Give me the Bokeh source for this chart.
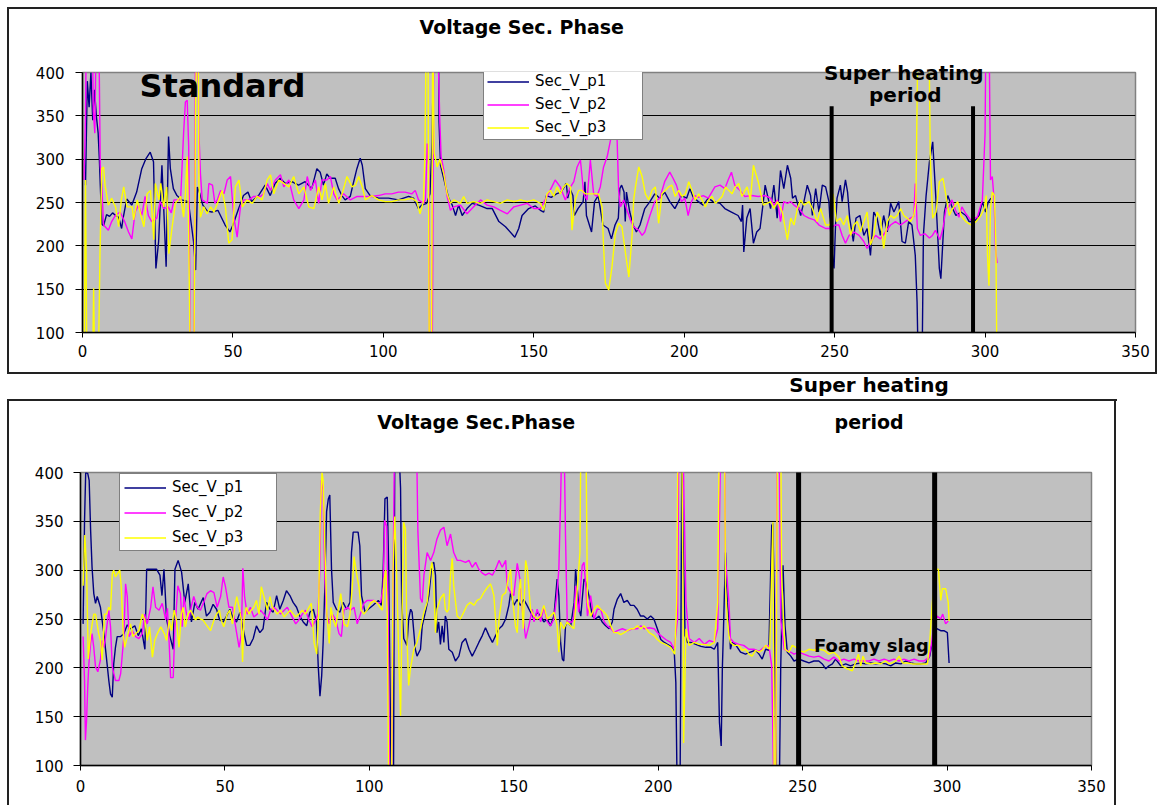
from bokeh.plotting import figure
from bokeh.models import Range1d, FixedTicker, Label, Legend, LegendItem, LinearAxis
from bokeh.layouts import column
from bokeh.embed import file_html
from bokeh.resources import INLINE

# ---------------- data ----------------
X_TICKS = [0, 50, 100, 150, 200, 250, 300, 350]
Y_TICKS = [100, 150, 200, 250, 300, 350, 400]
GRID_TICKS = [150, 200, 250, 300, 350]
SERIES = ["Sec_V_p1", "Sec_V_p2", "Sec_V_p3"]
COLORS = ["#000080", "#FF00FF", "#FFFF00"]

# top chart ("Standard"), pairs of (sample, volts); >400 / <100 are off-scale peaks
top_p1 = [(1,270),(1.6,390),(2.2,360),(2.8,400),(3.4,345),(4,380),(4.6,350),(5.2,330),(5.6,300),(6,262),(6.5,225),(7,223),(8,236),(9,234),(10,238),(11,235),(12,233),(13,220),(13.5,232),(14.7,254),(16.4,247),(18,262),(19.7,289),(21,300),(22.5,308),(23.6,297),(24.4,174),(25.3,205),(26.4,293),(27,243),(27.8,176),(28.6,326),(29.2,289),(30.2,266),(31.4,258),(33,253),(35.2,251),(36.9,205),(37.6,172),(38.2,268),(39,260),(40,247),(41.5,240),(43,239),(45,241),(47.4,224),(49,216),(50,224),(51.9,243),(53.5,258),(55,262),(56.2,251),(58.5,258),(60.7,270),(62.4,258),(64,272),(65.7,278),(67.4,272),(69.6,274),(71.8,270),(74,274),(76.2,266),(77.9,289),(79,285),(80.1,270),(81.2,283),(82.3,278),(84,278),(85.1,266),(86.2,258),(87.3,253),(89,257),(90,272),(91.2,289),(92.3,301),(93,293),(94,266),(95.6,258),(98.4,255),(101.7,255),(105,253),(108.4,257),(110,255),(111.7,243),(112.8,247),(114.4,249),(115.5,260),(116.2,320),(116.8,460),(118.3,460),(118.5,343),(119,293),(120.6,270),(121.7,255),(122.9,247),(124,235),(125,247),(126.2,235),(127.8,243),(129.5,249),(131.7,247),(134.5,243),(136.2,243),(138.4,228),(140.6,222),(143.7,210),(145,220),(146.1,235),(148.3,243),(150.5,246),(152.2,241),(153.3,239),(154.2,258),(155.8,256),(157.5,260),(159.1,262),(160.8,272),(161.3,255),(162,266),(163,258),(163.5,235),(164.7,243),(166.4,251),(167,274),(167.5,235),(169.2,216),(170.2,251),(171.4,258),(173,224),(174.7,220),(175.8,208),(177,224),(178.1,232),(178.6,266),(179.2,270),(180,262),(180.4,228),(180.8,262),(181.9,239),(183,224),(184.1,216),(185.3,224),(186.9,243),(188.6,251),(190.2,260),(191.9,255),(193.5,262),(195.2,251),(196.9,243),(199.1,258),(200.8,255),(201.9,266),(203,256),(204.7,251),(206.3,247),(208,255),(209.6,251),(211.9,249),(213.5,243),(215.7,239),(217.9,235),(219,228),(219.4,247),(219.8,193),(220.8,232),(221.9,243),(223,203),(224.1,216),(225.2,220),(226.3,251),(226.9,270),(228.7,243),(229.8,270),(230.9,232),(232,287),(233.1,266),(234.3,293),(235.4,278),(236,255),(237,258),(238.7,235),(239.8,251),(240.9,270),(242,258),(242.6,235),(243.7,266),(244.8,239),(245.9,270),(247,268),(248.1,251),(249,197),(249.8,174),(250.3,224),(250.8,255),(251.9,270),(252.5,251),(253.6,276),(254.3,262),(255,232),(256.2,205),(257.1,232),(258.4,235),(259.7,212),(260.8,220),(261.9,189),(263,239),(264.1,232),(265.2,212),(266.3,235),(267.5,216),(268.6,249),(269.7,239),(271.3,251),(272.4,205),(273.5,203),(274.6,228),(275.7,224),(276.8,189),(277.4,135),(277.9,40),(279,40),(279.5,212),(280.4,258),(281.5,297),(282.6,320),(283.7,251),(284.8,174),(285.3,162),(286.5,239),(287.6,258),(289.2,243),(290.3,235),(292,239),(293.6,235),(294.7,228),(296.4,228),(298,235),(299.1,251),(300.2,239),(301,250),(302,255)]

top_p2 = [(0.5,276),(1,350),(1.3,460),(3.2,460),(3.6,355),(4.1,330),(4.6,460),(5.4,460),(5.9,293),(6.4,270),(7,224),(8.6,218),(9.7,228),(10.9,235),(12.5,239),(14,228),(15.3,216),(16.4,208),(17.5,239),(18.6,247),(19.7,235),(20.8,257),(21.9,235),(23,228),(24.7,232),(25.8,251),(27,243),(28.5,245),(29.5,238),(30.4,253),(32.6,253),(33.6,330),(34.2,366),(34.8,368),(35.3,314),(35.9,40),(37,40),(37.6,460),(38.2,460),(38.7,330),(39.2,283),(39.8,253),(41.5,249),(42,272),(43.2,270),(44,249),(44.8,253),(45.9,264),(47,260),(48.1,276),(49.2,280),(50.3,233),(51.4,210),(52.5,245),(53.6,253),(55.3,253),(56.9,257),(59.1,257),(60.2,260),(61.4,272),(62.5,264),(64.1,276),(65.8,282),(66.9,268),(68.6,276),(70.2,253),(71.9,243),(73.6,253),(74.7,280),(75.8,264),(77.4,276),(78.5,249),(79.6,276),(81.2,276),(82.4,280),(83.5,260),(84.6,253),(86.8,260),(89,253),(91.3,257),(93.5,257),(96.2,257),(98.4,258),(100.6,260),(102.8,260),(105,262),(107.2,262),(109.5,260),(110.6,264),(111.7,253),(113.3,249),(114,253),(114.6,318),(115.1,291),(115.4,40),(116.2,40),(116.8,460),(117.9,460),(118.8,341),(119.2,303),(120.1,287),(121.2,257),(122.3,241),(123.4,245),(125.6,247),(127.8,237),(130,245),(132.3,253),(134.5,247),(136.7,245),(138.9,241),(141.2,237),(143.4,245),(145.6,247),(147.8,249),(150,243),(152.2,243),(154.4,257),(156,268),(157.1,276),(158.8,268),(160.5,253),(162.2,268),(163.3,274),(164.4,291),(165.5,299),(166.6,260),(167.7,253),(168.8,299),(169.9,260),(171,257),(172.1,268),(173.2,291),(174.4,303),(175.5,322),(176,357),(176.6,460),(177.2,460),(177.7,322),(178.2,264),(178.8,245),(179.9,253),(181,241),(182.1,230),(183.2,222),(184.9,218),(186,212),(186.9,216),(188.6,235),(190.2,251),(191.9,255),(193.5,274),(195.2,285),(196.3,278),(197.4,270),(199.1,251),(200.2,255),(201.3,235),(202.4,251),(203.5,258),(204.7,256),(206.3,258),(208,255),(210.2,268),(211.9,270),(213.5,266),(214.6,276),(215.7,285),(216.8,270),(218.5,264),(220.1,257),(222.4,258),(224.6,257),(226.9,258),(228.7,255),(229.8,247),(231,253),(232,228),(233.1,251),(234.3,249),(235.4,251),(236.5,247),(238.2,243),(239.8,235),(241.5,232),(243.2,230),(244.8,224),(247,220),(248.6,220),(250.3,224),(251.4,224),(252.5,212),(253.6,203),(254.8,212),(256.4,216),(258.1,212),(259.7,205),(260.8,197),(261.9,205),(263.6,212),(265.2,208),(266.9,216),(268.6,224),(270.2,228),(271.9,224),(273.5,228),(275.2,232),(276.3,234),(276.8,272),(277.5,220),(278.5,212),(280,214),(281.5,209),(282.5,212),(283.5,218),(285,207),(286,220),(287,243),(288,245),(289,253),(290.2,241),(291.3,233),(292.3,245),(293.6,237),(295.2,230),(297.4,233),(299.1,253),(300,330),(300.3,460),(301.3,460),(301.8,276),(302.4,280),(303,253),(303.5,195),(304,180)]

top_p3 = [(0.5,40),(1,276),(1.5,40),(3.3,40),(3.7,151),(4.1,40),(5.2,40),(5.8,189),(6.4,289),(7,291),(7.5,270),(8.6,247),(9.7,255),(10.4,249),(11,245),(12,222),(12.9,253),(13.7,268),(14.8,245),(16.5,245),(17,230),(18.2,253),(19.3,237),(20.4,222),(21.5,260),(22.6,264),(23.7,207),(24.2,272),(25.4,253),(26,272),(27,245),(28,268),(28.7,191),(29.8,222),(30.9,249),(32.6,257),(33.6,233),(34.2,260),(34.8,303),(35.3,214),(35.9,40),(37,40),(37.6,368),(38.1,460),(38.5,420),(38.7,272),(39.2,233),(40.3,245),(41.4,237),(42.6,245),(43.7,239),(45.3,253),(46.4,264),(47.5,245),(48.6,203),(49.7,207),(50.8,268),(52,276),(53.1,245),(54.7,253),(56.4,249),(58,257),(59.7,253),(61.4,276),(62.5,282),(63.6,260),(65.2,276),(66.9,272),(68.6,268),(70.2,280),(71.9,260),(73.6,268),(75.2,245),(76.9,243),(78.5,268),(79.6,253),(80.7,272),(81.8,249),(83.5,268),(85.2,249),(86.3,260),(87.9,280),(89.6,268),(90.7,270),(91.8,280),(93,268),(94,253),(95.7,257),(96.2,258),(98.4,253),(100.6,251),(102.8,251),(105,253),(107.2,253),(109.5,255),(111.1,251),(112.2,237),(113.3,251),(113.8,303),(114.3,460),(114.8,460),(115.3,40),(116,40),(116.4,460),(116.9,307),(117.9,291),(118.8,300),(120.1,283),(121.2,260),(122.3,249),(123.4,253),(125.6,249),(126.7,257),(127.8,249),(130,251),(132.3,249),(134.5,253),(136.7,251),(138.9,249),(141.2,253),(143.4,251),(145.6,253),(147.8,251),(150,253),(152.2,249),(153.3,241),(154.4,260),(155.5,264),(156.6,257),(157.7,268),(158.8,260),(159.9,268),(161,272),(162.2,268),(162.7,218),(163.8,253),(164.9,264),(166,264),(167.1,260),(168.2,260),(169.9,260),(171.5,260),(172.7,245),(173.2,199),(173.8,157),(174.9,149),(176,176),(177.1,214),(178.2,226),(179.3,222),(180.5,191),(181.6,164),(182.7,214),(183.2,253),(183.8,268),(184.9,291),(186,280),(187.1,260),(188.2,253),(189.3,264),(190.4,268),(191.5,226),(192.6,260),(193.7,264),(194.8,268),(195.9,270),(197,257),(198.2,264),(199.3,257),(200.4,260),(201.5,274),(202.6,264),(203.7,253),(204.8,260),(205.9,253),(207,245),(208.1,253),(209.2,257),(210.4,249),(211.5,253),(212.6,257),(213.7,268),(214.8,264),(215.9,260),(217,268),(218.1,272),(219.2,257),(220.9,268),(222,253),(223,293),(224.6,274),(226.3,247),(228.7,251),(229.8,243),(231,251),(232.6,239),(234.3,207),(235.4,232),(236.5,224),(237.6,243),(238.7,253),(239.8,247),(241.5,251),(242.6,243),(244.2,228),(245.3,243),(247,224),(248.4,224),(249.5,260),(250.6,228),(251.9,232),(253,224),(254.2,235),(255.3,212),(256.4,224),(257.5,228),(258.6,216),(259.7,228),(260.8,239),(261.9,201),(263,212),(264.1,239),(265.2,232),(266.3,197),(267.5,228),(268.6,235),(269.7,232),(270.8,235),(271.9,243),(273,235),(274.1,232),(275.2,228),(276.3,235),(277,250),(277.6,420),(278.2,460),(281.3,460),(281.8,300),(282.6,232),(283.7,239),(284.8,274),(286,278),(287,258),(288.1,235),(289.2,243),(290.9,251),(292,235),(293.6,228),(295.3,224),(297,228),(298.6,235),(299.7,243),(300.4,258),(300.8,189),(301.3,154),(301.8,243),(302.4,262),(303.1,258),(303.6,200),(304,40)]

# bottom chart ("Foamy slag")
bot_p1 = [(0.9,245),(1.4,351),(1.8,400),(2.5,399),(3,392),(3.5,341),(4,303),(4.6,276),(5.2,266),(5.8,273),(6.9,262),(8.1,235),(9.2,204),(9.8,187),(10.4,173),(11,170),(11.5,204),(12.1,221),(12.7,232),(13.9,232),(15,235),(16.2,244),(17.3,240),(18.8,243),(20,233),(21.1,240),(22.3,219),(22.9,301),(24,301),(26.3,301),(27.5,295),(28.2,274),(28.9,301),(29.8,250),(30.9,233),(32.1,219),(32.7,301),(33.8,310),(35,298),(36.1,267),(37.3,286),(38.4,247),(39.6,267),(40.7,260),(42.5,272),(43.6,253),(44.8,257),(45.9,265),(47.1,260),(48.2,249),(49.4,247),(50.6,253),(51.7,260),(52.9,250),(54,247),(55.2,257),(56.3,240),(57.5,223),(58.6,223),(59.8,230),(60.9,243),(62.1,236),(63.2,240),(64.4,267),(65.6,260),(66.7,257),(67.9,274),(69,260),(70.2,269),(71.3,279),(72.5,274),(73.6,267),(74.8,262),(75.9,253),(77.1,247),(78.3,243),(79.4,257),(80.6,260),(81.7,247),(82.3,202),(82.9,171),(83.5,192),(84,226),(84.6,284),(85.2,360),(85.8,373),(86.3,377),(86.9,301),(87.5,267),(88.6,260),(89.8,257),(90.9,267),(92.1,260),(93.3,267),(93.8,318),(94.4,339),(96.1,339),(96.7,325),(97.3,274),(98.5,257),(99.6,260),(101.3,264),(103.1,269),(104.2,264),(104.8,301),(105.4,373),(106.2,375),(106.7,301),(107.1,199),(107.7,40),(108.3,40),(108.8,420),(110.3,420),(110.8,384),(111.2,267),(111.9,230),(113,223),(113.6,250),(114.3,260),(114.8,257),(115.9,219),(116.5,212),(117.7,219),(118.3,243),(119.4,257),(120.6,274),(121.7,307),(122.3,308),(122.9,295),(123.4,236),(124,247),(124.6,224),(125.2,243),(125.8,226),(126.3,253),(126.9,247),(127.5,219),(128.7,216),(129.8,207),(131,212),(132.1,226),(133.3,230),(134.5,219),(135.6,212),(136.8,219),(137.9,226),(139.1,233),(140.2,241),(141.4,233),(142.6,226),(143.7,233),(144.9,240),(146,243),(147.2,250),(148.3,264),(148.9,277),(150,264),(151.2,270),(152.3,264),(153.5,270),(154.6,264),(155.8,257),(157,250),(158.1,257),(159.3,253),(160.4,247),(161.6,250),(162.7,243),(163.9,253),(165,291),(165.6,274),(166.2,226),(166.8,209),(167.3,207),(167.9,243),(168.6,247),(169.7,243),(170.9,267),(171.4,301),(172.6,260),(173.2,253),(174.3,291),(174.9,288),(176,274),(177.2,253),(178.3,250),(179.5,253),(180.6,247),(181.8,243),(183,240),(184.1,247),(184.7,260),(185.8,270),(187,276),(188.1,267),(189.3,269),(190.4,264),(191.6,264),(192.7,260),(193.9,253),(195,253),(196.2,250),(197.4,253),(198.5,250),(199.7,240),(200.9,229),(202.1,226),(203.2,224),(204.4,222),(205.5,219),(206.1,185),(206.7,40),(207.5,40),(208.2,420),(208.6,336),(209.3,233),(210.1,226),(211.3,226),(213,224),(214.8,222),(216.5,221),(218.3,221),(219.4,219),(220.6,226),(221.2,144),(221.8,120),(222.2,199),(222.6,240),(223.3,318),(223.9,267),(224.5,250),(225,219),(225.6,226),(226.7,224),(228.5,216),(230.2,214),(231.9,216),(233.7,218),(234.9,214),(236,209),(237.2,219),(238.3,218),(239.3,346),(239.7,348),(240.2,267),(240.6,147),(241.2,40),(241.8,40),(242.4,199),(243.2,305),(243.9,243),(244.7,216),(245.9,212),(247,207),(248.7,209),(250.4,207),(252.2,205),(253.9,207),(255.6,207),(256.8,204),(258,199),(259.1,202),(260.3,204),(261.4,209),(263.2,202),(264.9,204),(266.6,202),(268.4,204),(270.1,205),(271.8,204),(273.6,205),(275.3,204),(277,205),(278.8,204),(280.5,202),(282.2,205),(284,204),(285.7,207),(287.4,205),(289.2,204),(290.9,204),(292.6,205),(294,212),(294.9,226),(295.8,240),(296.6,240),(297.8,238),(298.9,238),(300.1,236),(300.7,205)]

bot_p2 = [(0.9,232),(1.4,187),(1.7,126),(2.1,146),(2.5,180),(2.9,204),(3.5,225),(4,235),(4.6,221),(5.2,201),(6,196),(6.9,208),(7.5,228),(8.1,221),(8.7,232),(9.8,259),(10.4,242),(11,201),(12.1,187),(13.3,187),(13.9,194),(15,232),(15.6,286),(16.2,273),(16.8,232),(17.9,238),(19.1,232),(20.2,230),(21.4,235),(22.2,255),(23.1,245),(24.3,262),(25.1,283),(26,262),(27.2,259),(28.3,266),(29.5,249),(30.1,261),(30.7,225),(31.2,190),(32.1,190),(32.6,235),(33.2,262),(33.7,284),(34.6,276),(35.2,242),(35.8,273),(36.7,255),(37.5,249),(38.3,262),(39.2,273),(40.4,262),(41.5,259),(42.9,269),(43.8,276),(45,279),(46.2,277),(47.3,262),(48.5,273),(49.4,293),(50.2,283),(51.4,262),(52.6,262),(53.7,242),(54.9,221),(55.7,235),(56.2,302),(56.8,273),(57.7,255),(58.8,262),(60,252),(61.2,255),(62.3,259),(63.5,255),(64.7,249),(65.8,259),(67,262),(68.1,259),(69.3,255),(70.5,259),(71.6,262),(72.8,255),(74.5,245),(75.6,249),(76.8,255),(77.9,259),(79.1,249),(80.2,242),(81.4,249),(82.2,255),(82.8,296),(83.4,392),(84,382),(84.6,290),(85.2,255),(86.1,245),(87.2,255),(88.4,249),(89.5,235),(90.3,232),(91.2,259),(92.4,262),(93.5,259),(94.7,262),(95.8,245),(96.9,255),(98.1,266),(99.2,269),(100.4,269),(101.6,269),(102.8,266),(103.9,267),(104.8,283),(105.3,351),(106,345),(106.5,255),(107.1,40),(107.6,40),(108.2,283),(108.8,460),(116.2,460),(116.8,340),(117.7,271),(118.3,267),(118.9,295),(120,318),(121.2,310),(122.3,318),(123.4,332),(124.6,341),(125.8,344),(126.9,325),(128.1,337),(129.2,318),(130.4,310),(131.5,310),(133.3,308),(134.5,310),(135.6,303),(136.8,308),(137.9,301),(139.1,297),(140.2,295),(141.4,297),(142.6,295),(143.7,301),(144.9,310),(146,303),(147.2,310),(147.7,284),(148.9,277),(150,274),(151.2,307),(152.1,291),(152.9,260),(154.1,230),(155.2,243),(156.4,260),(157,247),(158.1,260),(159.3,247),(160.4,262),(161.6,247),(162.7,243),(163.9,250),(164.9,274),(165.6,301),(166.2,370),(166.8,460),(167.3,460),(167.9,336),(168.5,247),(170.2,247),(170.8,253),(171.4,284),(172.5,257),(173.7,305),(174.3,308),(174.9,284),(175.5,253),(176.6,274),(177.8,250),(178.9,260),(180.1,260),(181.3,247),(182.4,243),(183.6,240),(184.7,236),(185.9,238),(187.6,240),(189.3,238),(191.1,240),(192.8,240),(194,243),(195.1,240),(196.9,241),(198.6,240),(199.7,236),(200.9,233),(202.6,229),(204.3,226),(205.5,219),(206.7,250),(207.2,460),(208.4,460),(209.6,267),(210.7,230),(212.5,226),(214.2,230),(216,224),(217.7,228),(219.4,226),(220.6,240),(221.8,460),(222.9,460),(223.3,312),(224.5,267),(225,230),(226.2,226),(227.9,224),(229.6,223),(231.4,219),(233.1,219),(234.9,217),(236.6,221),(238.3,223),(239.3,202),(239.7,130),(240.2,40),(240.6,40),(241.2,460),(241.8,460),(242.4,250),(243.6,219),(245.3,217),(247,214),(248.7,216),(250.4,214),(252.2,212),(253.9,211),(255.6,212),(257.4,209),(259.1,207),(260.8,211),(262.6,207),(264.3,209),(266,207),(267.8,209),(269.5,207),(271.2,207),(273,207),(274.7,209),(276.4,207),(278.2,209),(279.9,207),(281.6,209),(283.4,207),(285.1,209),(286.8,207),(288.6,209),(290.3,207),(292,207),(293.8,211),(294.7,226),(295.5,247),(296.6,253),(297.8,250),(298.5,255),(299.5,245),(300.4,248)]

bot_p3 = [(0.9,284),(1.5,336),(2.1,301),(2.7,209),(3.5,235),(4.6,255),(5.2,255),(6.3,235),(6.9,228),(7.5,208),(8.3,255),(9,255),(9.8,262),(10.4,259),(11,296),(11.5,300),(12.1,293),(12.7,296),(13.6,300),(14.1,283),(14.8,235),(15.3,221),(16.2,232),(17.3,245),(18.2,232),(19.1,235),(20.2,238),(21.4,255),(22.3,249),(23.1,228),(23.9,242),(24.9,211),(25.7,228),(26.6,235),(27.8,242),(29,235),(29.8,228),(30.7,249),(31.5,238),(32.4,259),(33.2,249),(34.1,221),(34.9,255),(35.5,262),(36.3,242),(37.2,255),(38.1,259),(38.8,255),(39.8,249),(40.6,252),(41.5,250),(42.4,249),(43.3,245),(44.1,242),(45,238),(46.2,249),(47.1,255),(48.1,259),(48.7,249),(49.6,242),(50.8,255),(51.7,259),(52.6,245),(53.4,262),(54.1,273),(54.9,262),(55.7,249),(56.1,206),(56.6,249),(57.4,262),(58.3,255),(59.1,259),(60,262),(60.9,269),(61.8,255),(62.6,283),(63.5,273),(64.7,259),(65.6,273),(66.4,262),(67.2,259),(68.1,255),(69.3,259),(70.5,252),(71.4,255),(72.6,259),(73.7,255),(74.5,252),(75.6,255),(76.8,259),(77.9,255),(79.1,262),(79.9,266),(80.9,225),(81.8,214),(82.4,255),(83,358),(83.6,400),(84,392),(84.6,324),(85.3,255),(86.1,225),(86.7,262),(87.5,249),(88.4,242),(89.2,259),(90.1,276),(90.7,262),(91.2,245),(92.4,242),(93.3,255),(94.1,283),(94.7,314),(95.6,296),(96.4,283),(97.2,259),(98.1,255),(99.2,259),(100.4,266),(101.6,269),(102.8,266),(103.7,262),(104.5,259),(105.1,290),(105.7,300),(106.2,255),(106.8,40),(107.6,40),(108.2,300),(108.8,355),(109.4,300),(110.3,200),(110.8,151),(111.3,250),(111.9,349),(112.5,342),(113,233),(113.6,182),(114.2,199),(115.4,219),(116.5,226),(117.7,240),(118.9,257),(120,267),(121.2,301),(121.7,308),(122.3,284),(122.9,236),(123.4,260),(124.6,271),(125.8,276),(126.3,260),(126.9,257),(127.5,260),(128.1,295),(128.7,312),(129.2,284),(130.4,253),(131.5,250),(132.7,257),(133.8,264),(135,267),(136.2,264),(137.3,269),(138.5,271),(139.6,277),(140.8,282),(141.9,286),(142.5,281),(143.1,274),(143.7,250),(144.3,223),(144.9,250),(146,274),(147.2,277),(148.3,295),(148.9,301),(149.4,274),(150.6,243),(151.2,236),(151.8,277),(152.3,291),(153.3,240),(154.1,310),(154.7,301),(155.8,260),(157,253),(158.1,250),(159.3,253),(160.4,264),(161.6,250),(162.7,253),(163.9,257),(165,243),(165.6,216),(166.2,247),(167.3,240),(168.5,247),(169.7,243),(170.8,240),(172,281),(172.9,318),(173.3,460),(174.9,460),(175.5,267),(176.6,253),(177.8,260),(178.9,264),(180.1,260),(181.3,257),(182.4,253),(183.6,243),(184.7,236),(185.9,236),(187,234),(188.2,236),(189.3,238),(190.5,240),(191.6,240),(192.8,243),(194,240),(195.1,243),(196.9,236),(198.6,233),(199.7,229),(200.9,226),(202.6,224),(204.3,221),(205.7,214),(206.4,267),(206.9,460),(208.1,460),(208.6,267),(208.8,123),(209.6,240),(210.7,223),(212.5,226),(214.2,224),(216,224),(217.7,223),(219.4,226),(220.6,267),(221.2,460),(222.9,460),(223.3,284),(223.9,250),(224.5,233),(225,226),(226.2,223),(227.9,223),(229.1,218),(230.2,219),(231.4,214),(232.5,212),(233.7,218),(234.9,216),(236,218),(237.2,223),(238.6,219),(239.3,301),(239.7,349),(240.2,40),(240.6,40),(241.3,460),(242.4,460),(242.7,301),(243.2,260),(243.9,219),(245.3,216),(246.4,223),(247.6,221),(248.7,218),(250.4,216),(252.2,219),(253.9,218),(255.6,219),(257.4,218),(259.1,214),(260.8,216),(262.6,211),(263.7,202),(265.5,199),(267.2,197),(268.4,206),(269.3,214),(270.1,202),(270.9,212),(271.8,205),(273.6,204),(275.3,205),(277,204),(278.8,207),(279.9,204),(281.1,205),(282.2,207),(283.4,212),(284.6,205),(286.3,205),(288,204),(289.7,204),(291.5,204),(293.2,204),(294,226),(294.9,267),(296.1,301),(297,301),(297.8,269),(298.4,281),(299.5,281),(300.4,267),(300.7,248)]

# "Super heating period" markers (sample index) and their upper ends (volts)
top_period = [249, 296]
top_period_top = 361
bot_period = [248.6, 295.7]
bot_period_top = 402

FONT = "DejaVu Sans"


def lines_css(lines):
    # thin black chart borders drawn as CSS background lines: (x, y, w, h) in px
    return {
        "background-image": ", ".join(["linear-gradient(#222,#222)"] * len(lines)),
        "background-size": ", ".join(f"{w}px {h}px" for _, _, w, h in lines),
        "background-position": ", ".join(f"{x}px {y}px" for x, y, _, _ in lines),
        "background-repeat": "no-repeat",
    }


def make_fig(w, h, bl, br, bt, bb, stand_x, stand_y):
    p = figure(width=w, height=h, x_range=Range1d(0, 350), y_range=Range1d(100, 400),
               output_backend="svg", toolbar_location=None, title=None,
               min_border_left=bl, min_border_right=br, min_border_top=bt, min_border_bottom=bb)
    p.background_fill_color = "#C0C0C0"
    p.border_fill_alpha = 0
    p.outline_line_color = "#808080"
    p.outline_line_width = 1.5
    p.xaxis.ticker = FixedTicker(ticks=X_TICKS)
    p.yaxis.ticker = FixedTicker(ticks=Y_TICKS)
    for ax in (p.xaxis, p.yaxis):
        ax.axis_line_color = "black"
        ax.axis_line_width = 1.5
        ax.major_tick_line_color = "black"
        ax.major_tick_in = 0
        ax.minor_tick_line_color = None
        ax.major_label_text_font = FONT
        ax.major_label_text_font_size = "15px"
        ax.major_label_text_color = "black"
    p.xaxis.major_tick_out = 5
    p.yaxis.major_tick_out = 7
    p.xaxis.major_label_standoff = stand_x
    p.yaxis.major_label_standoff = stand_y
    p.xgrid.grid_line_color = None
    p.ygrid.ticker = FixedTicker(ticks=GRID_TICKS)
    p.ygrid.grid_line_color = "black"
    p.ygrid.grid_line_width = 1
    return p


def add_series(p, series):
    rs = []
    for pts, col in zip(series, COLORS):
        rs.append(p.line([a for a, b in pts], [b for a, b in pts], line_color=col, line_width=1.4))
    return rs


def add_legend(p, rs, loc, pad, spacing, lab_w):
    leg = Legend(items=[LegendItem(label=n, renderers=[r]) for n, r in zip(SERIES, rs)],
                 location=loc, orientation="vertical")
    leg.label_text_font = FONT
    leg.label_text_font_size = "15px"
    leg.label_text_color = "black"
    leg.border_line_color = "black"
    leg.border_line_width = 1
    leg.background_fill_color = "white"
    leg.background_fill_alpha = 1
    leg.glyph_width = 42
    leg.glyph_height = 17
    leg.label_height = 17
    leg.label_width = lab_w
    leg.label_standoff = 6
    leg.padding = pad
    leg.spacing = spacing
    leg.margin = 0
    p.add_layout(leg)


def txt(p, x, y, s, size):
    p.add_layout(Label(x=x, y=y, text=s, text_font=FONT, text_font_size=size,
                       text_font_style="bold", text_color="black",
                       text_align="center", text_baseline="middle"))


def text_axis(p, ticks, labels, size, standoff):
    # texts outside the plot area, positioned through the x scale
    ax = LinearAxis(ticker=FixedTicker(ticks=ticks),
                    major_label_overrides=dict(zip(ticks, labels)))
    ax.axis_line_color = None
    ax.major_tick_line_color = None
    ax.minor_tick_line_color = None
    ax.major_tick_in = 0
    ax.major_tick_out = 0
    ax.major_label_standoff = standoff
    ax.major_label_text_font = FONT
    ax.major_label_text_font_size = size
    ax.major_label_text_font_style = "bold"
    ax.major_label_text_color = "black"
    p.add_layout(ax, "above")


# ---------------- top chart ----------------
H1 = 368
p1 = make_fig(1158, H1, 82, 23, 72, H1 - 72 - 260, 7, 11)
r1 = add_series(p1, [top_p1, top_p2, top_p3])
p1.segment(x0=top_period, y0=[100, 100], x1=top_period, y1=[top_period_top] * 2,
           line_color="black", line_width=4)
add_legend(p1, r1, (401, 192), 3, 5, 104)
txt(p1, 46.5, 385, "Standard", "32px")
txt(p1, 273.5, 374, "period", "20px")
text_axis(p1, [273], ["Super heating"], "20px", -12)
text_axis(p1, [146], ["Voltage Sec. Phase"], "19px", 20)
p1.styles = lines_css([(7, 7, 1150, 2), (7, 7, 2, H1 - 7), (1155, 7, 2, H1 - 7)])

# ---------------- bottom chart ----------------
H2 = 805 - H1
p2 = make_fig(1158, H2, 80, 67, 104, H2 - 104 - 293, 9, 10)
r2 = add_series(p2, [bot_p1, bot_p2, bot_p3])
p2.segment(x0=bot_period, y0=[100, 100], x1=bot_period, y1=[bot_period_top] * 2,
           line_color="black", line_width=5)
add_legend(p2, r2, (39, 214), 4, 7, 100)
txt(p2, 273.8, 223, "Foamy slag", "18px")
text_axis(p2, [137, 273], ["Voltage Sec.Phase", "period"], "19px", 40)
text_axis(p2, [273], ["Super heating"], "20px", 11)
p2.styles = lines_css([(7, 0, 2, 6), (1155, 0, 2, 6), (7, 4, 1150, 2),
                       (7, 31, 1110, 2), (7, 31, 2, H2), (1114, 31, 2, H2)])

layout = column(column(p1), column(p2))
open("out.html", "w").write(file_html(layout, INLINE))
